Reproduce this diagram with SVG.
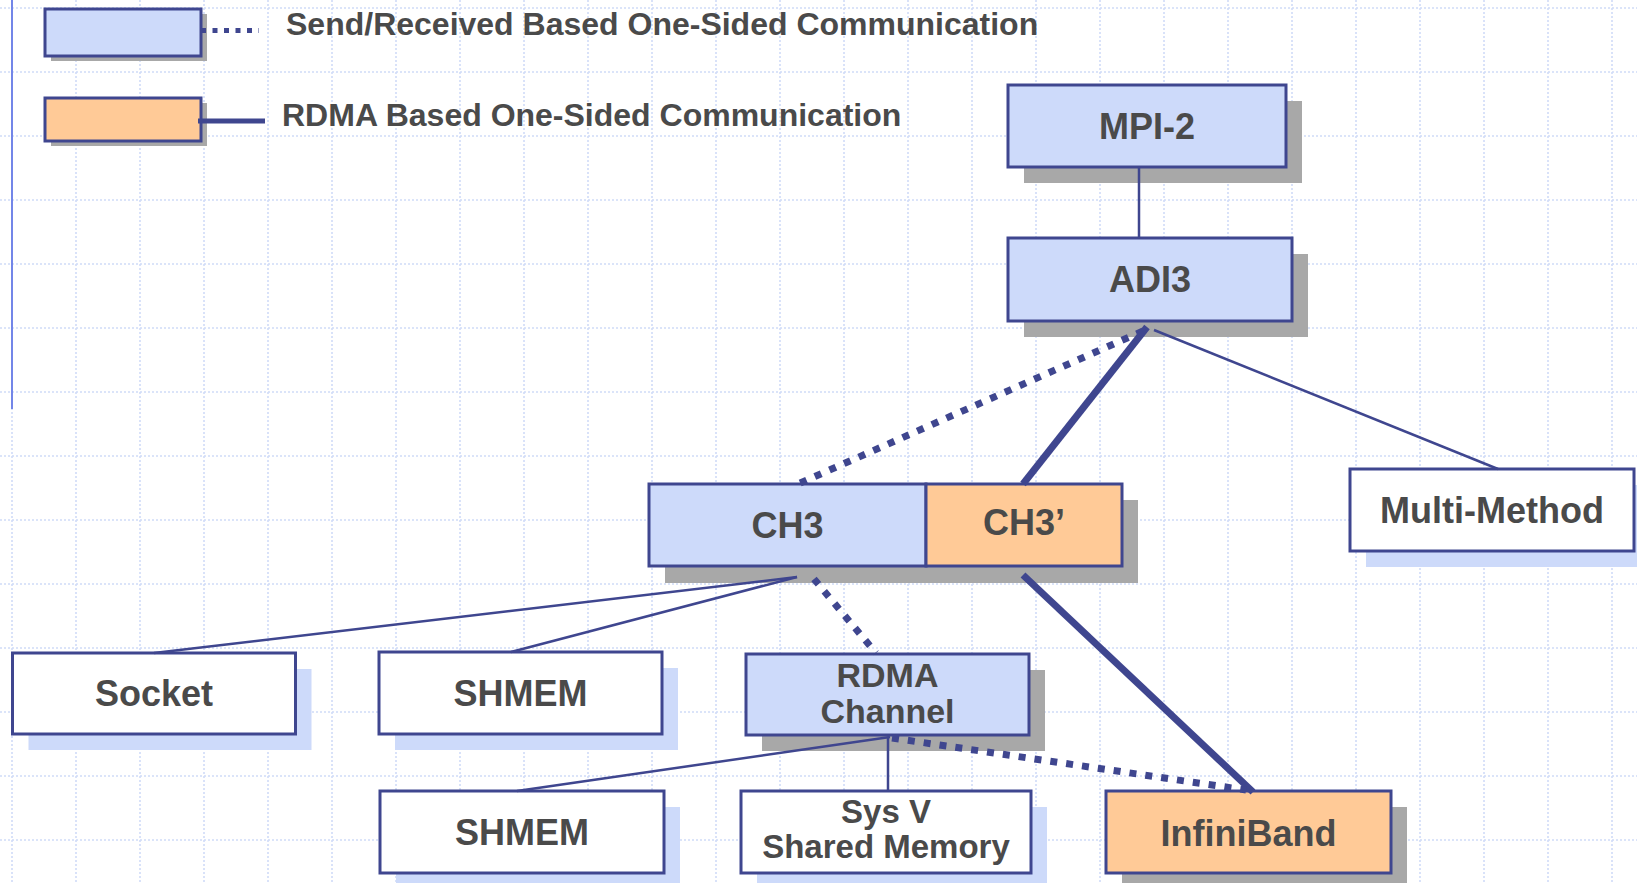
<svg xmlns="http://www.w3.org/2000/svg" width="1637" height="883" viewBox="0 0 1637 883">
<style>
.grid{fill:none;stroke:#d0dbf8;stroke-width:1.6;stroke-dasharray:2 2}
.box{stroke:#3f468f;stroke-width:3}
.blue{fill:#cddafa}
.orange{fill:#ffca97}
.white{fill:#ffffff}
.sh-gray{fill:#a8a8a8}
.sh-blue{fill:#cddafa}
.t{font-family:"Liberation Sans",Arial,sans-serif;font-weight:bold;fill:#4a4a4a;text-anchor:middle;font-size:36px}
.lt{font-family:"Liberation Sans",Arial,sans-serif;font-weight:bold;fill:#4a4a4a;font-size:32px}
.thin{fill:none;stroke:#3f468f;stroke-width:2.5}
.thick{fill:none;stroke:#3f468f;stroke-width:7}
.dot{fill:none;stroke:#3f468f;stroke-width:7;stroke-dasharray:7 9}
</style>
<rect width="1637" height="883" fill="#ffffff"/>
<g id="grid">
<path class="grid" d="M12 0V883M76 0V883M140 0V883M204 0V883M268 0V883M332 0V883M396 0V883M460 0V883M524 0V883M588 0V883M652 0V883M716 0V883M780 0V883M844 0V883M908 0V883M972 0V883M1036 0V883M1100 0V883M1164 0V883M1228 0V883M1292 0V883M1356 0V883M1420 0V883M1484 0V883M1548 0V883M1612 0V883"/>
<path class="grid" d="M0 8H1637M0 72H1637M0 136H1637M0 200H1637M0 264H1637M0 328H1637M0 392H1637M0 456H1637M0 520H1637M0 584H1637M0 648H1637M0 712H1637M0 776H1637M0 840H1637"/>
<line x1="12" y1="0" x2="12" y2="409" stroke="#7386e8" stroke-width="2"/>
</g>
<g id="legend">
<rect class="sh-gray" x="51" y="14" width="156" height="47"/>
<rect class="box blue" x="45" y="9" width="156" height="47"/>
<rect class="sh-gray" x="51" y="103" width="156" height="43"/>
<rect class="box orange" x="45" y="98" width="156" height="43"/>
<line x1="201" y1="30.5" x2="259" y2="30.5" stroke="#3f468f" stroke-width="5" stroke-dasharray="5 6.5"/>
<line x1="198" y1="121" x2="265" y2="121" stroke="#3f468f" stroke-width="5"/>
<text class="lt" x="286" y="35">Send/Received Based One-Sided Communication</text>
<text class="lt" x="282" y="126">RDMA Based One-Sided Communication</text>
</g>
<g id="node-mpi2">
<rect class="sh-gray" x="1024" y="101" width="278" height="82"/>
<rect class="box blue" x="1008" y="85" width="278" height="82"/>
<text class="t" x="1147" y="139">MPI-2</text>
</g>
<g id="node-adi3">
<rect class="sh-gray" x="1024" y="254" width="284" height="83"/>
<rect class="box blue" x="1008" y="238" width="284" height="83"/>
<text class="t" x="1150" y="292">ADI3</text>
</g>
<g id="node-ch3">
<rect class="sh-gray" x="665" y="500" width="473" height="83"/>
<rect class="box blue" x="649" y="484" width="277" height="82"/>
<text class="t" x="787.5" y="538">CH3</text>
</g>
<g id="node-ch3p">
<rect class="box orange" x="926" y="484" width="196" height="82"/>
<text class="t" x="1024" y="535">CH3’</text>
</g>
<g id="node-multimethod">
<rect class="sh-blue" x="1366" y="485" width="284" height="82"/>
<rect class="box white" x="1350" y="469" width="284" height="82"/>
<text class="t" x="1492" y="523">Multi-Method</text>
</g>
<g id="node-socket">
<rect class="sh-blue" x="28.5" y="669" width="283" height="81"/>
<rect class="box white" x="12.5" y="653" width="283" height="81"/>
<text class="t" x="154" y="706">Socket</text>
</g>
<g id="node-shmem1">
<rect class="sh-blue" x="395" y="668" width="283" height="82"/>
<rect class="box white" x="379" y="652" width="283" height="82"/>
<text class="t" x="520.5" y="706">SHMEM</text>
</g>
<g id="node-rdma">
<rect class="sh-gray" x="762" y="670" width="283" height="81"/>
<rect class="box blue" x="746" y="654" width="283" height="81"/>
<text class="t" x="887.5" y="687" style="font-size:34px">RDMA<tspan x="887.5" dy="36">Channel</tspan></text>
</g>
<g id="node-shmem2">
<rect class="sh-blue" x="396" y="807" width="284" height="82"/>
<rect class="box white" x="380" y="791" width="284" height="82"/>
<text class="t" x="522" y="845">SHMEM</text>
</g>
<g id="node-sysv">
<rect class="sh-blue" x="757" y="807" width="290" height="82"/>
<rect class="box white" x="741" y="791" width="290" height="82"/>
<text class="t" x="886" y="823" style="font-size:33px">Sys V<tspan x="886" dy="35">Shared Memory</tspan></text>
</g>
<g id="node-infiniband">
<rect class="sh-gray" x="1122" y="807" width="285" height="82"/>
<rect class="box orange" x="1106" y="791" width="285" height="82"/>
<text class="t" x="1248.5" y="846">InfiniBand</text>
</g>
<g id="connectors">
<line class="thin" x1="1139" y1="167" x2="1139" y2="238"/>
<line class="dot" x1="1143" y1="331" x2="798" y2="484"/>
<line class="thick" x1="1147" y1="327" x2="1023" y2="484"/>
<line class="thin" x1="1154" y1="330" x2="1498" y2="469"/>
<line class="thin" x1="797" y1="577" x2="154" y2="653"/>
<line class="thin" x1="797" y1="577" x2="511" y2="652"/>
<line class="dot" x1="814" y1="579" x2="876" y2="653"/>
<line class="thick" x1="1023" y1="575" x2="1253" y2="792"/>
<line class="thin" x1="890" y1="737" x2="517" y2="791"/>
<line class="thin" x1="888" y1="737" x2="888" y2="791"/>
<line class="dot" x1="892" y1="738" x2="1246" y2="790"/>
</g>
</svg>
